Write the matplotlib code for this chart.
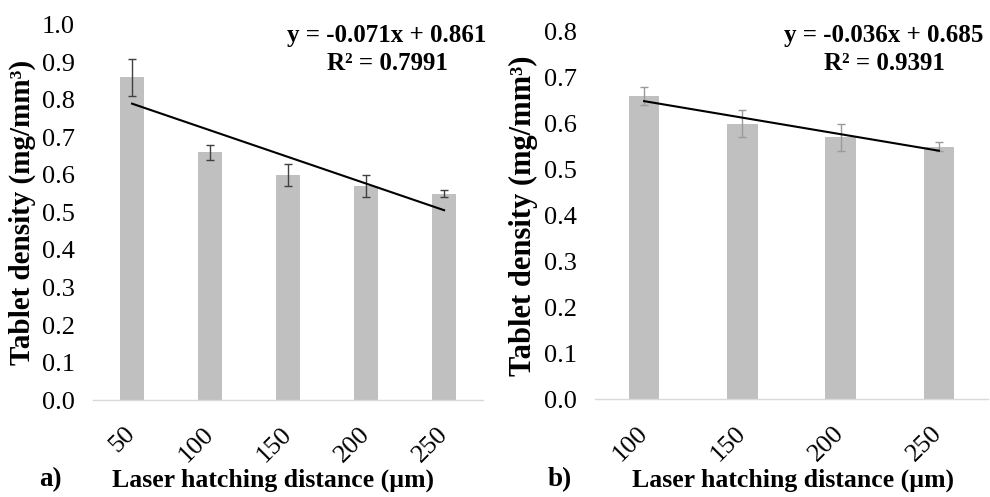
import matplotlib
matplotlib.use("Agg")
import matplotlib.pyplot as plt
import numpy as np

# Panel a) hatching distance series
dist_a = ["50", "100", "150", "200", "250"]
dens_a = [0.86, 0.66, 0.60, 0.57, 0.55]
err_a = [0.05, 0.02, 0.03, 0.03, 0.01]
slope_a, icpt_a, r2_a = -0.071, 0.861, 0.7991

# Panel b) hatching distance series
dist_b = ["100", "150", "200", "250"]
dens_b = [0.66, 0.60, 0.57, 0.55]
err_b = [0.02, 0.03, 0.03, 0.01]
slope_b, icpt_b, r2_b = -0.036, 0.685, 0.9391

plt.rcParams["font.family"] = ["Liberation Serif", "DejaVu Serif"]

W, H = 990, 497
fig = plt.figure(figsize=(W / 100, H / 100), dpi=100)
ax_a = fig.add_axes([0.094, 0.195, 0.394, 0.755])
ax_b = fig.add_axes([0.601, 0.197, 0.397, 0.739])

BAR = "#c0c0c0"
TICK_FS = 19
TEXT_FS = 18.5
EQ_FS = 18
LABEL_Y_PX = 480  # vertical centre of the x-axis titles, in figure pixels


def panel(ax, cats, vals, errs, slope, icpt, r2, ymax, ecolor, ylab_fs,
          eq_xpx, xlab_xpx):
    x = np.arange(len(cats))
    ax.bar(x, vals, width=0.31, color=BAR, zorder=2)
    ax.errorbar(x, vals, yerr=errs, fmt="none", ecolor=ecolor,
                elinewidth=1.0, capsize=3, capthick=1.0, zorder=3)
    xs = np.array([1, len(cats)])
    ax.plot(xs - 1, slope * xs + icpt, color="black", lw=1.5, zorder=4)
    ax.set_xlim(-0.5, len(cats) - 0.5)
    ax.set_ylim(0, ymax)
    ticks = np.round(np.arange(0, ymax + 0.001, 0.1), 1)
    ax.set_yticks(ticks)
    ax.set_yticklabels([f"{v:.1f}" for v in ticks], fontsize=TICK_FS)
    ax.set_xticks(x)
    ax.set_xticklabels(cats, fontsize=TICK_FS, rotation=45, ha="right",
                       va="center", rotation_mode="anchor")
    ax.tick_params(axis="y", length=0, pad=13)
    ax.tick_params(axis="x", length=0, pad=22)
    for s in ("top", "right", "left"):
        ax.spines[s].set_visible(False)
    ax.spines["bottom"].set_color("#d9d9d9")
    ax.spines["bottom"].set_linewidth(1.0)
    ax.set_ylabel("Tablet density (mg/mm³)", fontsize=ylab_fs,
                  fontweight="bold", labelpad=4)
    fig.text(xlab_xpx / W, 1 - LABEL_Y_PX / H, "Laser hatching distance (µm)",
             fontsize=TEXT_FS, fontweight="bold", ha="center", va="center")
    sign = "-" if slope < 0 else ""
    eq = f"y = {sign}{abs(slope):.3f}x + {icpt:.3f}\nR² = {r2:.4f}"
    fig.text(eq_xpx / W, 1 - 24 / H, eq, ha="center", va="top",
             multialignment="center", fontsize=EQ_FS, fontweight="bold",
             linespacing=1.3)
    return ax


panel(ax_a, dist_a, dens_a, err_a, slope_a, icpt_a, r2_a, 1.0, "#404040", 21,
      387, 273)
panel(ax_b, dist_b, dens_b, err_b, slope_b, icpt_b, r2_b, 0.8, "#9a9a9a", 22,
      884, 793)

fig.text(50 / W, 1 - LABEL_Y_PX / H, "a)", fontsize=TEXT_FS + 1,
         fontweight="bold", ha="center", va="center")
fig.text(560 / W, 1 - LABEL_Y_PX / H, "b)", fontsize=TEXT_FS + 1,
         fontweight="bold", ha="center", va="center")

fig.savefig("out.png", dpi=100)
